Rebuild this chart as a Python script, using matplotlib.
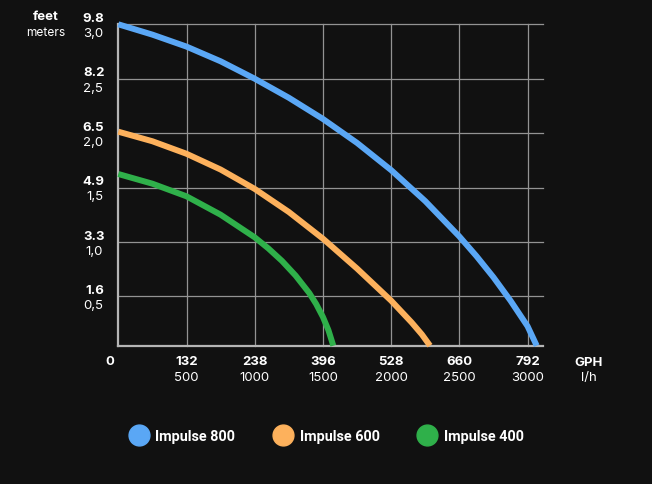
import matplotlib
matplotlib.use("Agg")
import matplotlib.pyplot as plt
from matplotlib.lines import Line2D

# flow in l/h, head in meters
blue_x = [0, 250, 500, 750, 1000, 1250, 1500, 1750, 2000, 2250, 2500, 2625, 2750, 2875, 3000, 3067]
blue_y = [3.0, 2.905, 2.795, 2.66, 2.50, 2.325, 2.13, 1.91, 1.66, 1.375, 1.05, 0.87, 0.675, 0.46, 0.225, 0.046]
orange_x = [0, 250, 500, 750, 1000, 1250, 1500, 1750, 2000, 2150, 2225, 2285]
orange_y = [2.013, 1.925, 1.81, 1.665, 1.487, 1.275, 1.03, 0.755, 0.46, 0.26, 0.15, 0.046]
green_x = [0, 250, 500, 750, 1000, 1100, 1200, 1300, 1400, 1450, 1500, 1540, 1576]
green_y = [1.624, 1.535, 1.419, 1.25, 1.042, 0.94, 0.825, 0.69, 0.53, 0.43, 0.31, 0.19, 0.046]

y_meters = [0.5, 1.0, 1.5, 2.0, 2.5, 3.0]
y_meter_labels = ["0,5", "1,0", "1,5", "2,0", "2,5", "3,0"]
y_feet_labels = ["1.6", "3.3", "4.9", "6.5", "8.2", "9.8"]
x_lh = [500, 1000, 1500, 2000, 2500, 3000]
x_gph_labels = ["132", "238", "396", "528", "660", "792"]

series = ["Impulse 800", "Impulse 600", "Impulse 400"]
colors = ["#5aa7f5", "#fdb15c", "#2fb04a"]

bg = "#111111"
plt.rcParams["font.family"] = ["Inter", "DejaVu Sans"]

W, H = 652, 485
fig = plt.figure(figsize=(W / 100, H / 100), dpi=100, facecolor=bg)
left, right, top, bottom = 118.3, 542.7, 25.3, 346.7
ax = fig.add_axes([left / W, 1 - bottom / H, (right - left) / W, (bottom - top) / H])
ax.set_facecolor(bg)
ax.set_xlim(0, 3111)
ax.set_ylim(0.046, 3.0)

# grid
for y in y_meters:
    ax.axhline(y, color="#939393", lw=0.9, zorder=1, clip_on=False)
for x in x_lh:
    ax.axvline(x, color="#939393", lw=0.9, zorder=1, clip_on=False)

for s in ["top", "right"]:
    ax.spines[s].set_visible(False)
for s in ["left", "bottom"]:
    ax.spines[s].set_color("#b5b5b5")
    ax.spines[s].set_linewidth(1.6)
ax.set_xticks([])
ax.set_yticks([])

for xs, ys, c in zip([blue_x, orange_x, green_x], [blue_y, orange_y, green_y], colors):
    ax.plot(xs, ys, color=c, lw=4.3, solid_capstyle="butt", solid_joinstyle="round",
            zorder=3, clip_on=False)

# y labels
for y, ft, m in zip(y_meters, y_feet_labels, y_meter_labels):
    ax.annotate(ft, xy=(0, y), xycoords=("axes fraction", "data"), xytext=(-10, 4.6),
                textcoords="offset points", ha="right", va="center",
                color="white", fontsize=9.5, fontweight="bold")
    ax.annotate(m, xy=(0, y), xycoords=("axes fraction", "data"), xytext=(-11, -6.4),
                textcoords="offset points", ha="right", va="center",
                color="white", fontsize=9.5)

# x labels
for x, g in zip(x_lh, x_gph_labels):
    ax.annotate(g, xy=(x, 0), xycoords=("data", "axes fraction"), xytext=(0, -11.3),
                textcoords="offset points", ha="center", va="center",
                color="white", fontsize=9.5, fontweight="bold")
    ax.annotate(str(x), xy=(x, 0), xycoords=("data", "axes fraction"), xytext=(0, -22.5),
                textcoords="offset points", ha="center", va="center",
                color="white", fontsize=9.5)
ax.annotate("0", xy=(0, 0), xycoords="axes fraction", xytext=(-6, -11.3),
            textcoords="offset points", ha="center", va="center",
            color="white", fontsize=9.5, fontweight="bold")

fig.text(589 / W, 1 - 362.7 / H, "GPH", ha="center", va="center", color="white",
         fontsize=9.5, fontweight="bold")
fig.text(589 / W, 1 - 378 / H, "l/h", ha="center", va="center", color="white", fontsize=9.5)
fig.text(45.5 / W, 1 - 17.3 / H, "feet", ha="center", va="center", color="white",
         fontsize=9.5, fontweight="bold")
fig.text(45.5 / W, 1 - 33.3 / H, "meters", ha="center", va="center", color="white", fontsize=8.6)

handles = [Line2D([], [], ls="none", marker="o", markersize=15, markerfacecolor=c,
                  markeredgecolor=c) for c in colors]
leg = fig.legend(handles, series, loc="center", bbox_to_anchor=(324 / W, 1 - 437 / H),
                 ncol=3, frameon=False, handletextpad=0.15, columnspacing=2.3,
                 prop={"family": "Roboto", "weight": "bold", "size": 10.4})
for t in leg.get_texts():
    t.set_color("white")

fig.savefig("out.png", dpi=100, facecolor=bg)
